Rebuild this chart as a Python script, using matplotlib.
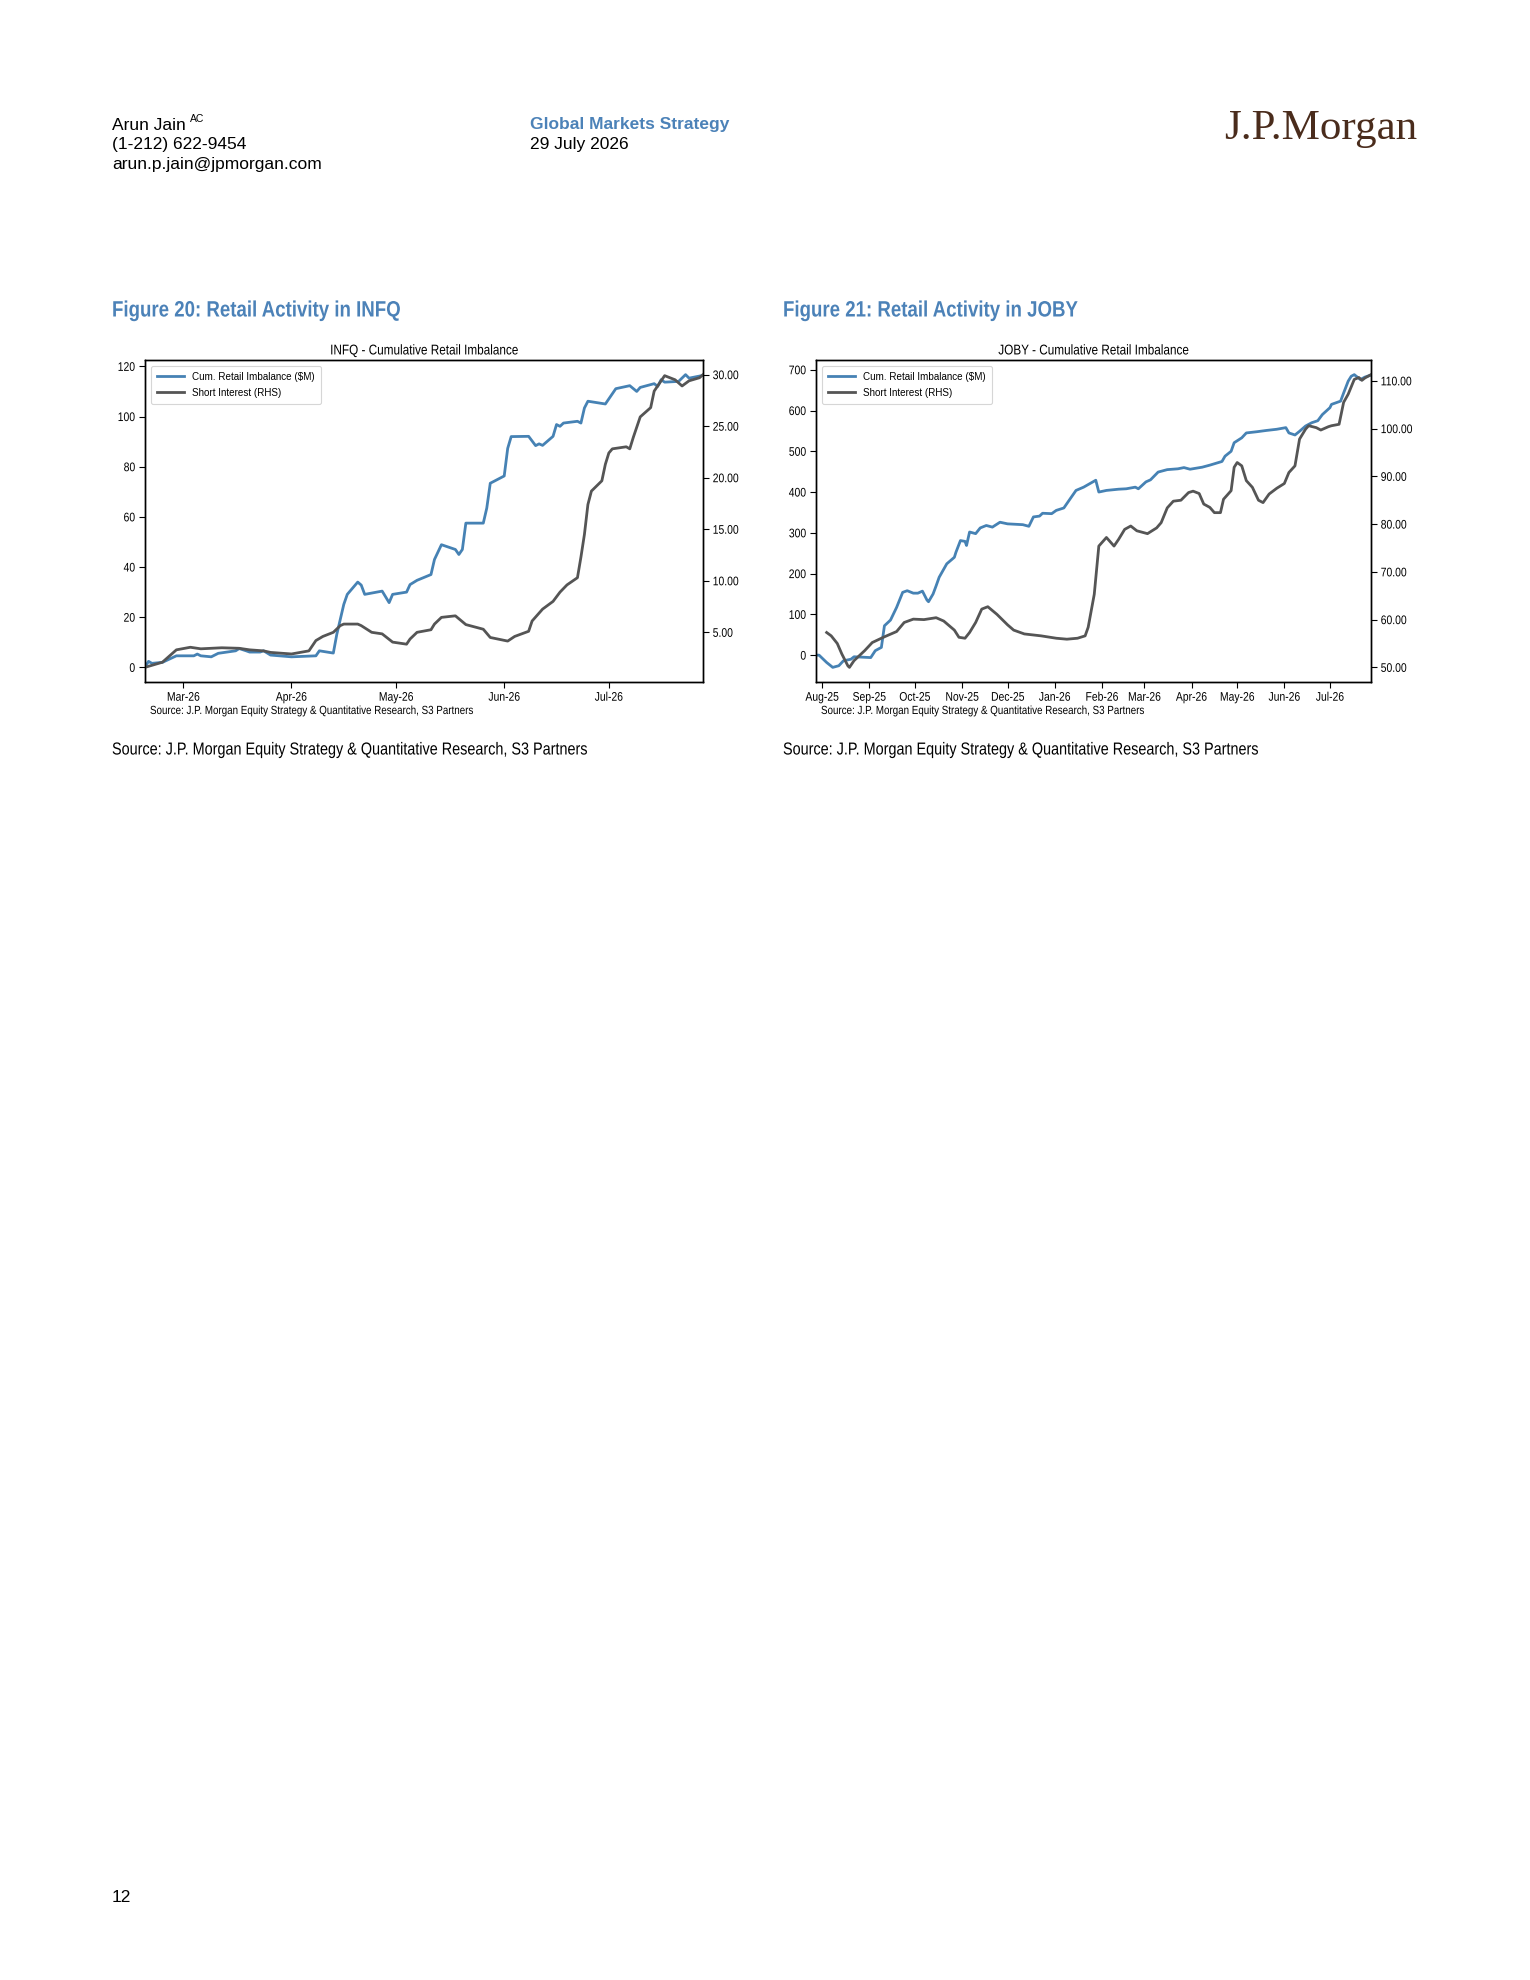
import matplotlib
matplotlib.use("Agg")
import matplotlib.pyplot as plt
import matplotlib.dates as mdates
from matplotlib.ticker import FormatStrFormatter, MultipleLocator
from matplotlib.patheffects import AbstractPathEffect
from matplotlib.transforms import Affine2D
import pandas as pd

# ---------------- data ----------------
infq_imb_dates = ["2026-02-18", "2026-02-19", "2026-02-20", "2026-02-23", "2026-02-27", "2026-03-04",
                  "2026-03-05", "2026-03-06", "2026-03-09", "2026-03-11", "2026-03-16", "2026-03-17",
                  "2026-03-19", "2026-03-20", "2026-03-23", "2026-03-24", "2026-03-26", "2026-04-01",
                  "2026-04-08", "2026-04-09", "2026-04-13", "2026-04-14", "2026-04-16", "2026-04-17",
                  "2026-04-20", "2026-04-21", "2026-04-22", "2026-04-27", "2026-04-29", "2026-04-30",
                  "2026-05-04", "2026-05-05", "2026-05-07", "2026-05-11", "2026-05-12", "2026-05-14",
                  "2026-05-18", "2026-05-19", "2026-05-20", "2026-05-21", "2026-05-26", "2026-05-27",
                  "2026-05-28", "2026-06-01", "2026-06-02", "2026-06-03", "2026-06-08", "2026-06-10",
                  "2026-06-11", "2026-06-12", "2026-06-15", "2026-06-16", "2026-06-17", "2026-06-18",
                  "2026-06-22", "2026-06-23", "2026-06-24", "2026-06-25", "2026-06-30", "2026-07-03",
                  "2026-07-07", "2026-07-09", "2026-07-10", "2026-07-14", "2026-07-15", "2026-07-16",
                  "2026-07-17", "2026-07-21", "2026-07-23", "2026-07-24", "2026-07-28"]
infq_imb_values = [0.0, 2.4, 1.6, 2.0, 4.6, 4.6,
                   5.3, 4.6, 4.2, 5.6, 6.6, 7.5,
                   6.6, 6.1, 6.1, 6.6, 4.9, 4.2,
                   4.6, 6.6, 5.7, 13.2, 25.1, 29.1,
                   34.0, 32.8, 29.1, 30.4, 25.8, 29.1,
                   30.0, 33.0, 34.7, 37.0, 43.0, 48.9,
                   47.0, 45.0, 47.0, 57.5, 57.5, 63.5,
                   73.4, 76.3, 87.3, 92.0, 92.1, 88.4,
                   89.1, 88.5, 92.1, 96.8, 96.1, 97.4,
                   98.1, 97.4, 103.4, 106.1, 105.0, 111.1,
                   112.3, 110.0, 111.6, 113.1, 112.0, 114.7,
                   113.7, 114.0, 116.7, 115.3, 116.4]

infq_si_dates = ["2026-02-18", "2026-02-23", "2026-02-27", "2026-03-03", "2026-03-06", "2026-03-12",
                 "2026-03-17", "2026-03-20", "2026-03-24", "2026-03-26", "2026-04-01", "2026-04-06",
                 "2026-04-08", "2026-04-10", "2026-04-13", "2026-04-15", "2026-04-16", "2026-04-20",
                 "2026-04-21", "2026-04-24", "2026-04-27", "2026-04-30", "2026-05-04", "2026-05-05",
                 "2026-05-07", "2026-05-11", "2026-05-12", "2026-05-14", "2026-05-18", "2026-05-21",
                 "2026-05-26", "2026-05-28", "2026-06-02", "2026-06-04", "2026-06-08", "2026-06-09",
                 "2026-06-12", "2026-06-15", "2026-06-17", "2026-06-19", "2026-06-22", "2026-06-23",
                 "2026-06-24", "2026-06-25", "2026-06-26", "2026-06-29", "2026-06-30", "2026-07-01",
                 "2026-07-02", "2026-07-06", "2026-07-07", "2026-07-08", "2026-07-10", "2026-07-13",
                 "2026-07-14", "2026-07-17", "2026-07-20", "2026-07-22", "2026-07-24", "2026-07-27",
                 "2026-07-28"]
infq_si_values = [1.6, 2.1, 3.3, 3.55, 3.4, 3.5,
                  3.45, 3.3, 3.2, 3.05, 2.9, 3.2,
                  4.2, 4.6, 5.0, 5.65, 5.8, 5.8,
                  5.65, 5.0, 4.85, 4.05, 3.85, 4.35,
                  5.0, 5.25, 5.8, 6.45, 6.6, 5.75,
                  5.3, 4.5, 4.15, 4.6, 5.1, 6.1,
                  7.25, 8.0, 8.9, 9.6, 10.3, 12.3,
                  14.5, 17.4, 18.7, 19.7, 21.3, 22.4,
                  22.8, 23.0, 22.8, 23.9, 25.9, 26.8,
                  28.4, 29.9, 29.5, 28.9, 29.4, 29.7,
                  30.0]

joby_imb_dates = ["2025-07-28", "2025-07-30", "2025-08-04", "2025-08-08", "2025-08-12", "2025-08-15",
                  "2025-08-20", "2025-08-22", "2025-09-02", "2025-09-05", "2025-09-09", "2025-09-11",
                  "2025-09-15", "2025-09-19", "2025-09-23", "2025-09-26", "2025-09-30", "2025-10-03",
                  "2025-10-06", "2025-10-09", "2025-10-10", "2025-10-13", "2025-10-15", "2025-10-17",
                  "2025-10-22", "2025-10-27", "2025-10-28", "2025-10-31", "2025-11-03", "2025-11-04",
                  "2025-11-06", "2025-11-10", "2025-11-13", "2025-11-17", "2025-11-21", "2025-11-26",
                  "2025-12-01", "2025-12-11", "2025-12-15", "2025-12-18", "2025-12-22", "2025-12-24",
                  "2025-12-30", "2026-01-02", "2026-01-07", "2026-01-12", "2026-01-15", "2026-01-20",
                  "2026-01-28", "2026-01-30", "2026-02-04", "2026-02-12", "2026-02-17", "2026-02-23",
                  "2026-02-25", "2026-03-02", "2026-03-05", "2026-03-10", "2026-03-16", "2026-03-23",
                  "2026-03-27", "2026-03-31", "2026-04-08", "2026-04-13", "2026-04-21", "2026-04-23",
                  "2026-04-27", "2026-04-29", "2026-05-04", "2026-05-07", "2026-05-14", "2026-05-20",
                  "2026-05-27", "2026-06-02", "2026-06-04", "2026-06-08", "2026-06-11", "2026-06-15",
                  "2026-06-19", "2026-06-23", "2026-06-26", "2026-07-01", "2026-07-02", "2026-07-08",
                  "2026-07-10", "2026-07-13", "2026-07-15", "2026-07-17", "2026-07-21", "2026-07-24",
                  "2026-07-28"]
joby_imb_values = [0, 0, -18, -30, -26, -14,
                   -10, -4, -6, 11, 19, 72,
                   86, 117, 154, 158, 152, 152,
                   157, 135, 131, 150, 170, 191,
                   224, 240, 252, 281, 279, 269,
                   302, 298, 312, 318, 314, 326,
                   322, 320, 316, 339, 341, 348,
                   347, 355, 361, 388, 404, 412,
                   429, 400, 404, 407, 408, 412,
                   408, 425, 430, 449, 455, 457,
                   460, 456, 461, 466, 475, 488,
                   500, 521, 533, 545, 548, 551,
                   554, 558, 545, 540, 549, 562,
                   570, 575, 590, 607, 615, 623,
                   643, 672, 684, 688, 676, 682,
                   687]

joby_si_dates = ["2025-08-04", "2025-08-07", "2025-08-11", "2025-08-14", "2025-08-18", "2025-08-19",
                 "2025-08-22", "2025-08-29", "2025-09-03", "2025-09-11", "2025-09-19", "2025-09-24",
                 "2025-09-30", "2025-10-07", "2025-10-15", "2025-10-20", "2025-10-27", "2025-10-30",
                 "2025-11-03", "2025-11-06", "2025-11-10", "2025-11-14", "2025-11-18", "2025-11-24",
                 "2025-12-01", "2025-12-05", "2025-12-12", "2025-12-23", "2026-01-02", "2026-01-09",
                 "2026-01-16", "2026-01-21", "2026-01-23", "2026-01-27", "2026-01-30", "2026-02-04",
                 "2026-02-09", "2026-02-12", "2026-02-16", "2026-02-20", "2026-02-24", "2026-03-03",
                 "2026-03-09", "2026-03-12", "2026-03-16", "2026-03-20", "2026-03-25", "2026-03-30",
                 "2026-04-02", "2026-04-06", "2026-04-09", "2026-04-13", "2026-04-16", "2026-04-20",
                 "2026-04-22", "2026-04-27", "2026-04-29", "2026-05-01", "2026-05-04", "2026-05-07",
                 "2026-05-11", "2026-05-15", "2026-05-18", "2026-05-22", "2026-05-27", "2026-06-01",
                 "2026-06-04", "2026-06-08", "2026-06-11", "2026-06-15", "2026-06-17", "2026-06-22",
                 "2026-06-25", "2026-06-30", "2026-07-02", "2026-07-07", "2026-07-10", "2026-07-13",
                 "2026-07-17", "2026-07-20", "2026-07-22", "2026-07-24", "2026-07-28"]
joby_si_values = [57.3, 56.6, 55.0, 52.8, 50.3, 50.0,
                  51.4, 53.5, 55.2, 56.4, 57.5, 59.4,
                  60.1, 60.0, 60.4, 59.7, 57.8, 56.3,
                  56.1, 57.3, 59.4, 62.2, 62.7, 61.1,
                  58.9, 57.8, 57.0, 56.6, 56.1, 55.9,
                  56.1, 56.6, 58.4, 65.3, 75.4, 77.2,
                  75.4, 76.8, 78.9, 79.6, 78.6, 78.0,
                  79.2, 80.3, 83.4, 84.8, 85.0, 86.6,
                  86.9, 86.4, 84.2, 83.5, 82.4, 82.4,
                  85.2, 87.0, 91.9, 92.9, 92.2, 89.1,
                  87.7, 85.0, 84.5, 86.3, 87.5, 88.5,
                  90.8, 92.2, 97.8, 99.9, 100.6, 100.2,
                  99.7, 100.4, 100.6, 100.9, 105.5, 107.2,
                  110.3, 110.7, 110.1, 110.6, 111.3]

# ---------------- style ----------------
BLUE = "#4682B4"
GRAY = "#555555"
CAPTION_BLUE = "#4C82B8"
ARIAL = ["Liberation Sans", "DejaVu Sans"]
SOURCE = "Source: J.P. Morgan Equity Strategy & Quantitative Research, S3 Partners"


class Condense(AbstractPathEffect):
    """Horizontally compress text glyphs to imitate a narrow typeface."""

    def __init__(self, sx=0.83, anchor="left"):
        super().__init__()
        self.sx = sx
        self.anchor = anchor

    def draw_path(self, renderer, gc, tpath, affine, rgbFace=None):
        ext = tpath.get_extents()
        if self.anchor == "center":
            x0 = 0.5 * (ext.x0 + ext.x1)
        elif self.anchor == "right":
            x0 = ext.x1
        else:
            x0 = 0.0
        t = Affine2D().translate(-x0, 0).scale(self.sx, 1.0).translate(x0, 0)
        renderer.draw_path(gc, tpath, t + affine, rgbFace)


def narrow(anchor="left", sx=0.83):
    return [Condense(sx, anchor)]


W, H = 1530, 1980
fig = plt.figure(figsize=(W / 100, H / 100), dpi=100)


def fx(x):
    return x / W


def fy(y):
    return 1 - y / H


# ---------------- header ----------------
fig.text(fx(112), fy(125), "Arun Jain", family=ARIAL, fontsize=12.5, va="center", ha="left")
fig.text(fx(190), fy(119), "AC", family=ARIAL, fontsize=7.5, va="center", ha="left")
fig.text(fx(112), fy(145), "(1-212) 622-9454", family=ARIAL, fontsize=12.5, va="center", ha="left")
fig.text(fx(112), fy(165), "arun.p.jain@jpmorgan.com", family=ARIAL, fontsize=12.5, va="center", ha="left")
fig.text(fx(530), fy(125), "Global Markets Strategy", family=ARIAL, fontsize=12.5, weight="bold",
         color=CAPTION_BLUE, va="center", ha="left")
fig.text(fx(530), fy(145), "29 July 2026", family=ARIAL, fontsize=12.5, va="center", ha="left")
fig.text(fx(1417), fy(129), "J.P.Morgan", family=["Liberation Serif", "DejaVu Serif"], fontsize=31,
         color="#4A2C1C", va="center", ha="right")

fig.text(fx(112), fy(1898), "12", family=ARIAL, fontsize=12.5, va="center", ha="left")

all_axes = []


def make_chart(left_px, right_px, caption, title, imb_dates, imb_vals, si_dates, si_vals,
               lhs_step, rhs_step):
    top_px, bot_px = 360, 682
    ax = fig.add_axes([fx(left_px), fy(bot_px), fx(right_px - left_px), (bot_px - top_px) / H])
    d1 = pd.to_datetime(imb_dates)
    d2 = pd.to_datetime(si_dates)
    l1, = ax.plot(d1, imb_vals, color=BLUE, lw=2.0, label="Cum. Retail Imbalance (\\$M)")
    ax2 = ax.twinx()
    l2, = ax2.plot(d2, si_vals, color=GRAY, lw=2.0, label="Short Interest (RHS)")
    ax.set_xlim(min(d1.min(), d2.min()), max(d1.max(), d2.max()))
    ax.yaxis.set_major_locator(MultipleLocator(lhs_step))
    ax2.yaxis.set_major_locator(MultipleLocator(rhs_step))
    ax2.yaxis.set_major_formatter(FormatStrFormatter("%.2f"))
    ax.xaxis.set_major_locator(mdates.MonthLocator())
    ax.xaxis.set_major_formatter(mdates.DateFormatter("%b-%y"))
    for a in (ax, ax2):
        a.tick_params(length=4, width=0.8, pad=3, labelsize=9, labelfontfamily=ARIAL)
        for sp in a.spines.values():
            sp.set_linewidth(1.0)
    t = ax.set_title(title, family=ARIAL, fontsize=10.2, pad=4)
    t.set_path_effects(narrow("center"))
    leg = ax2.legend([l1, l2], [l1.get_label(), l2.get_label()], loc="upper left",
                     prop={"family": ARIAL, "size": 7.1}, frameon=True, fancybox=True,
                     handlelength=2.8, borderpad=0.6, labelspacing=0.6,
                     bbox_to_anchor=(0.0, 1.0), borderaxespad=0.6)
    leg.get_frame().set_edgecolor("#cccccc")
    leg.get_frame().set_linewidth(0.8)
    # captions
    fig.text(fx(left_px - 33), fy(311), caption, family=ARIAL, fontsize=16, weight="bold",
             color=CAPTION_BLUE, va="center", ha="left", path_effects=narrow("left", 0.84))
    fig.text(fx(left_px + 5), fy(711), SOURCE, family=ARIAL, fontsize=8.5, va="center", ha="left",
             path_effects=narrow("left"))
    fig.text(fx(left_px - 33), fy(750), SOURCE, family=ARIAL, fontsize=12.5, va="center", ha="left",
             path_effects=narrow("left"))
    all_axes.append((ax, ax2))


make_chart(145, 703, "Figure 20: Retail Activity in INFQ", "INFQ - Cumulative Retail Imbalance",
           infq_imb_dates, infq_imb_values, infq_si_dates, infq_si_values, 20, 5)
make_chart(816, 1371, "Figure 21: Retail Activity in JOBY", "JOBY - Cumulative Retail Imbalance",
           joby_imb_dates, joby_imb_values, joby_si_dates, joby_si_values, 100, 10)

# apply the narrow look to tick labels once the ticks exist
fig.canvas.draw()
for ax, ax2 in all_axes:
    for tk in ax.xaxis.get_major_ticks():
        tk.label1.set_path_effects(narrow("center"))
    for tk in ax.yaxis.get_major_ticks():
        tk.label1.set_path_effects(narrow("right"))
    for tk in ax2.yaxis.get_major_ticks():
        tk.label2.set_path_effects(narrow("left"))

fig.savefig("out.png", dpi=100, facecolor="white")
